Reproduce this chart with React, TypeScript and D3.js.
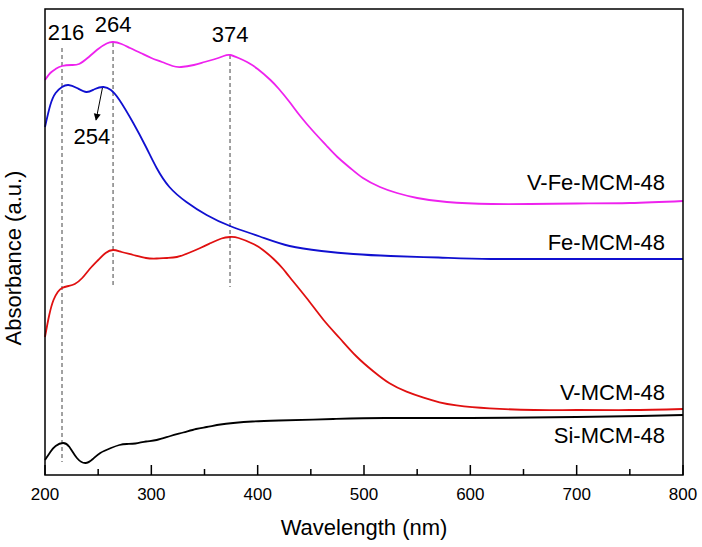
import React from "react";
import * as d3 from "d3";

const W = 702;
const H = 547;
const M = { left: 45, right: 19, top: 9, bottom: 72 };

const xTicks = [200, 300, 400, 500, 600, 700, 800];
const xMinorTicks = [250, 350, 450, 550, 650, 750];

// V-Fe-MCM-48 (magenta)
const vfeWl = [200, 205, 210, 216, 225, 232, 240, 250, 258, 264, 272, 280, 290, 300, 310, 320, 328, 340, 350, 360, 368, 374, 382, 390, 400, 412, 420, 430, 440, 452, 465, 475, 487, 499, 515, 531, 550, 578, 620, 656, 700, 750, 800];
const vfeAbs = [3.95, 4.02, 4.06, 4.09, 4.10, 4.11, 4.17, 4.26, 4.315, 4.33, 4.31, 4.27, 4.22, 4.17, 4.13, 4.09, 4.08, 4.10, 4.13, 4.16, 4.19, 4.20, 4.17, 4.13, 4.06, 3.95, 3.86, 3.73, 3.59, 3.44, 3.29, 3.18, 3.07, 2.97, 2.88, 2.82, 2.77, 2.73, 2.71, 2.71, 2.715, 2.72, 2.74];

// Fe-MCM-48 (blue)
const feWl = [200, 205, 210, 216, 222, 230, 239, 247, 255, 262, 270, 283, 295, 305, 317, 333, 352, 374, 402, 430, 460, 490, 525, 570, 620, 700, 800];
const feAbs = [3.48, 3.70, 3.82, 3.88, 3.90, 3.87, 3.83, 3.86, 3.88, 3.85, 3.75, 3.52, 3.28, 3.07, 2.88, 2.73, 2.60, 2.49, 2.385, 2.29, 2.24, 2.21, 2.19, 2.175, 2.16, 2.16, 2.16];

// V-MCM-48 (red)
const vWl = [200, 204, 208, 212, 216, 222, 228, 235, 242, 250, 257, 264, 272, 283, 295, 305, 315, 324, 335, 346, 356, 366, 374, 382, 396, 405, 415, 424, 430, 446, 462, 477, 493, 509, 524, 540, 556, 571, 587, 618, 660, 700, 750, 800];
const vAbs = [1.38, 1.60, 1.75, 1.83, 1.87, 1.89, 1.91, 1.97, 2.06, 2.15, 2.22, 2.25, 2.23, 2.20, 2.17, 2.165, 2.17, 2.18, 2.22, 2.27, 2.32, 2.365, 2.38, 2.37, 2.31, 2.25, 2.16, 2.06, 1.98, 1.77, 1.55, 1.37, 1.185, 1.035, 0.917, 0.833, 0.773, 0.727, 0.697, 0.667, 0.65, 0.65, 0.65, 0.66];

// Si-MCM-48 (black)
const siWl = [200, 205, 210, 217, 223, 230, 238, 245, 252, 262, 270, 277, 285, 295, 305, 318, 330, 342, 352, 365, 377, 395, 420, 471, 520, 600, 700, 760, 800];
const siAbs = [0.15, 0.23, 0.29, 0.32, 0.28, 0.17, 0.12, 0.16, 0.22, 0.27, 0.30, 0.31, 0.315, 0.335, 0.35, 0.39, 0.425, 0.46, 0.48, 0.505, 0.52, 0.535, 0.545, 0.56, 0.57, 0.57, 0.58, 0.59, 0.60];

const seriesNames = ["V-Fe-MCM-48", "Fe-MCM-48", "V-MCM-48", "Si-MCM-48"];
const seriesColors = ["#ee22ee", "#1010d0", "#e01010", "#000000"];
const seriesWl = [vfeWl, feWl, vWl, siWl];
const seriesAbs = [vfeAbs, feAbs, vAbs, siAbs];
const labelAbs = [2.85, 2.25, 0.75, 0.32];

// dashed peak markers: wavelength, top value, bottom value
const peakWl = [216, 264, 374];
const peakTop = [4.27, 4.32, 4.20];
const peakBottom = [0.13, 1.88, 1.88];
const peakLabelAbs = [4.35, 4.43, 4.33];
const peakLabels = ["216", "264", "374"];

const arrowFrom = { wl: 254, abs: 3.87 };
const arrowTo = { wl: 248, abs: 3.55 };
const arrowLabel = { wl: 244, abs: 3.31, text: "254" };

export default function App() {
  const x = d3.scaleLinear().domain([200, 800]).range([M.left, W - M.right]);
  const y = d3.scaleLinear().domain([0, 4.66]).range([H - M.bottom, M.top]);
  const line = d3
    .line<[number, number]>()
    .x((d) => x(d[0]))
    .y((d) => y(d[1]))
    .curve(d3.curveNatural);

  const font = "Arial, 'Liberation Sans', sans-serif";
  const y0 = H - M.bottom;

  return (
    <svg
      width={W}
      height={H}
      style={{ position: "absolute", left: 0, top: 0, background: "#fff" }}
      fontFamily={font}
    >
      <defs>
        <marker id="ah" viewBox="0 0 10 10" refX="9" refY="5" markerWidth="7" markerHeight="9" orient="auto" markerUnits="userSpaceOnUse">
          <path d="M0,0 L10,5 L0,10 z" fill="#000" />
        </marker>
      </defs>
      {peakWl.map((wl, i) => (
        <line
          key={"pk" + i}
          x1={x(wl)}
          x2={x(wl)}
          y1={y(peakTop[i])}
          y2={y(peakBottom[i])}
          stroke="#444"
          strokeWidth={1}
          strokeDasharray="4,3"
        />
      ))}
      {seriesWl.map((wl, i) => (
        <path
          key={"s" + i}
          d={line(wl.map((w, j) => [w, seriesAbs[i][j]] as [number, number])) || ""}
          fill="none"
          stroke={seriesColors[i]}
          strokeWidth={1.8}
        />
      ))}
      <rect
        x={M.left}
        y={M.top}
        width={W - M.left - M.right}
        height={H - M.top - M.bottom}
        fill="none"
        stroke="#000"
        strokeWidth={1.5}
      />
      {xTicks.map((t) => (
        <g key={"t" + t}>
          <line x1={x(t)} x2={x(t)} y1={y0} y2={y0 - 10} stroke="#000" strokeWidth={1.5} />
          <text x={x(t)} y={y0 + 25} textAnchor="middle" fontSize={17}>
            {t}
          </text>
        </g>
      ))}
      {xMinorTicks.map((t) => (
        <line key={"m" + t} x1={x(t)} x2={x(t)} y1={y0} y2={y0 - 6} stroke="#000" strokeWidth={1.5} />
      ))}
      <text x={(M.left + W - M.right) / 2} y={535} textAnchor="middle" fontSize={22}>
        Wavelength (nm)
      </text>
      <text transform={`translate(21,258) rotate(-90)`} textAnchor="middle" fontSize={22}>
        Absorbance (a.u.)
      </text>
      {seriesNames.map((n, i) => (
        <text key={"l" + i} x={665} y={y(labelAbs[i])} textAnchor="end" fontSize={22}>
          {n}
        </text>
      ))}
      {peakLabels.map((p, i) => (
        <text key={"pl" + i} x={x(peakWl[i]) + (i === 0 ? 4 : 0)} y={y(peakLabelAbs[i])} textAnchor="middle" fontSize={22}>
          {p}
        </text>
      ))}
      <line
        x1={x(arrowFrom.wl)}
        y1={y(arrowFrom.abs)}
        x2={x(arrowTo.wl)}
        y2={y(arrowTo.abs)}
        stroke="#000"
        strokeWidth={1}
        markerEnd="url(#ah)"
      />
      <text x={x(arrowLabel.wl)} y={y(arrowLabel.abs)} textAnchor="middle" fontSize={22}>
        {arrowLabel.text}
      </text>
    </svg>
  );
}
